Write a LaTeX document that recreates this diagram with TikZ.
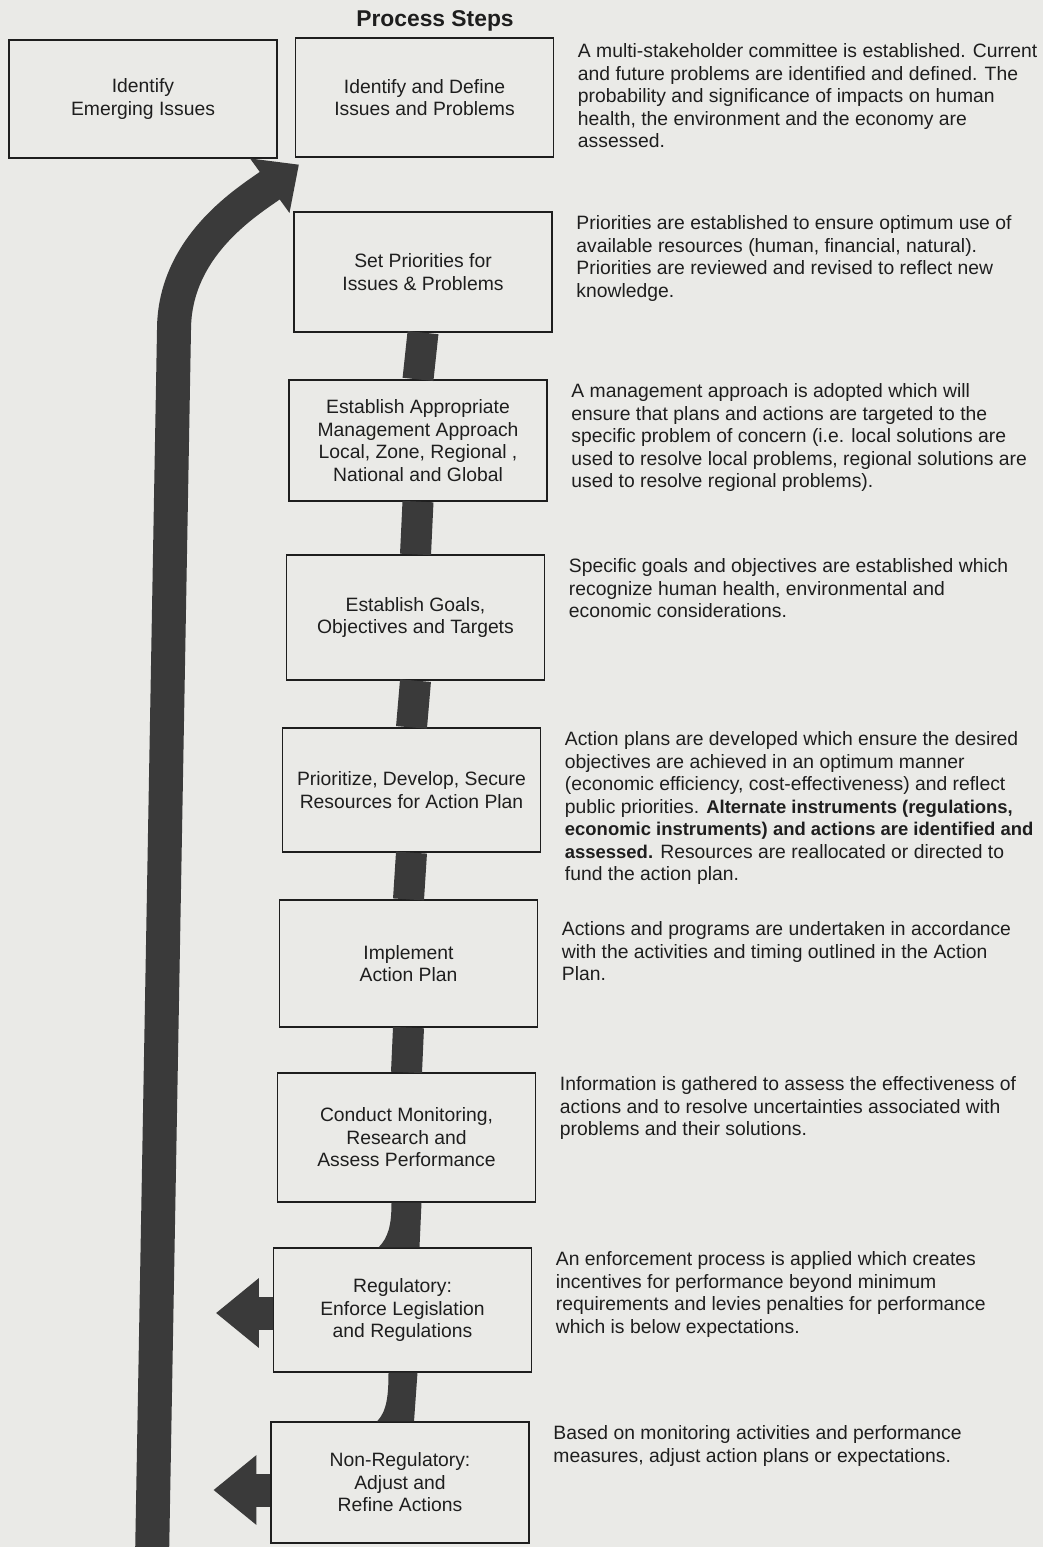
\documentclass[tikz,border=0pt]{standalone}
\usepackage{fontspec}
\setmainfont{Liberation Sans}
\usetikzlibrary{arrows.meta,calc}
\definecolor{paper}{RGB}{234,234,231}
\definecolor{ink}{RGB}{58,58,58}
\definecolor{printed}{RGB}{30,30,30}
\newcommand{\bodyfont}{\fontsize{11}{12.8}\selectfont}
\newcommand{\heavy}[1]{{\fontsize{10.5}{12.8}\selectfont\bfseries #1}}

\begin{document}
\begin{tikzpicture}[x=0.02cm,y=0.02cm,
  stepbox/.style={rectangle,draw=printed,line width=0.7pt,fill=paper,align=center,
    minimum width=5.16cm,minimum height=#1,inner sep=2pt,text=printed,font=\bodyfont},
  stepbox/.default=2.44cm,
  note/.style={anchor=north west,align=left,inner sep=0pt,xshift=0.47cm,yshift=-0.08cm,
    text=printed,font=\bodyfont,execute at begin node={\strut}},
  stepbar/.style={draw=ink,line width=0.62cm},
  feedback/.style={draw=ink,line width=0.68cm,-{Triangle[length=0.72cm,width=1.3cm]}},
  branch/.style={draw=ink,line width=0.66cm,-{Triangle[length=0.86cm,width=1.34cm]}}]
\fill[paper] (0,0) rectangle (1043,-1547);
\useasboundingbox (0,0) rectangle (1043,-1547);

\node[font=\bfseries\fontsize{13}{15}\selectfont,text=printed] (title) at (435,-21) {Process Steps};

% the steps
\node[stepbox=2.36cm,minimum width=5.36cm] (b1) at (143,-99) {Identify\\Emerging Issues};
\node[stepbox=2.38cm] (b2) at (424.5,-97.5) {Identify and Define\\Issues and Problems};
\node[stepbox=2.4cm] (b3) at (423,-272) {Set Priorities for\\Issues \& Problems};
\node[stepbox=2.42cm] (b4) at (418,-440.5) {Establish Appropriate\\Management Approach\\Local, Zone, Regional ,\\National and Global};
\node[stepbox=2.5cm] (b5) at (415.5,-617.5) {Establish Goals,\\Objectives and Targets};
\node[stepbox=2.48cm] (b6) at (411.5,-790) {Prioritize, Develop, Secure\\Resources for Action Plan};
\node[stepbox=2.54cm] (b7) at (408.5,-963.5) {Implement\\Action Plan};
\node[stepbox=2.58cm] (b8) at (406.5,-1137.5) {Conduct Monitoring,\\Research and\\Assess Performance};
\node[stepbox=2.48cm] (b9) at (402.5,-1310) {Regulatory:\\Enforce Legislation\\and Regulations};
\node[stepbox=2.42cm] (b10) at (400,-1482.5) {Non-Regulatory:\\Adjust and\\Refine Actions};

% what each step means
\node[note] (d2) at ([yshift=-0.04cm]b2.north east) {A multi-stakeholder committee is established. Current\\and future problems are identified and defined. The\\probability and significance of impacts on human\\health, the environment and the economy are\\assessed.};
\node[note] (d3) at (b3.north east) {Priorities are established to ensure optimum use of\\available resources (human, financial, natural).\\Priorities are reviewed and revised to reflect new\\knowledge.};
\node[note] (d4) at (b4.north east) {A management approach is adopted which will\\ensure that plans and actions are targeted to the\\specific problem of concern (i.e. local solutions are\\used to resolve local problems, regional solutions are\\used to resolve regional problems).};
\node[note] (d5) at (b5.north east) {Specific goals and objectives are established which\\recognize human health, environmental and\\economic considerations.};
\node[note] (d6) at (b6.north east) {Action plans are developed which ensure the desired\\objectives are achieved in an optimum manner\\(economic efficiency, cost-effectiveness) and reflect\\public priorities. \heavy{Alternate instruments (regulations,}\\\heavy{economic instruments) and actions are identified and}\\\heavy{assessed.} Resources are reallocated or directed to\\fund the action plan.};
\node[note] (d7) at ([yshift=-0.36cm]b7.north east) {Actions and programs are undertaken in accordance\\with the activities and timing outlined in the Action\\Plan.};
\node[note] (d8) at (b8.north east) {Information is gathered to assess the effectiveness of\\actions and to resolve uncertainties associated with\\problems and their solutions.};
\node[note] (d9) at (b9.north east) {An enforcement process is applied which creates\\incentives for performance beyond minimum\\requirements and levies penalties for performance\\which is below expectations.};
\node[note] (d10) at (b10.north east) {Based on monitoring activities and performance\\measures, adjust action plans or expectations.};

% bars between the steps
\foreach \a/\b in {b3/b4,b4/b5,b5/b6,b6/b7,b7/b8}
  \draw[stepbar] (\a.south) -- (\b.north);
\fill[ink] ($(b8.south)+(-15,0)$) -- ($(b8.south)+(15,0)$) -- ($(b9.north)+(17,0)$)
  -- ($(b9.north)+(-24,0)$) .. controls ($(b9.north)+(-14,10)$) and ($(b8.south)+(-15,-22)$) .. ($(b8.south)+(-15,0)$) -- cycle;
\fill[ink] ($(b9.south)+(-14,0)$) -- ($(b9.south)+(15,0)$) -- ($(b10.north)+(14,0)$)
  -- ($(b10.north)+(-23,0)$) .. controls ($(b10.north)+(-13,10)$) and ($(b9.south)+(-14,-22)$) .. ($(b9.south)+(-14,0)$) -- cycle;

% way out to the left
\draw[branch] ([yshift=-0.06cm]b9.west) -- ++(-57,0);
\draw[branch] ([yshift=-0.15cm]b10.west) -- ++(-57,0);

% back to the top
\coordinate (loopfoot) at (152,-1560);
\coordinate (loopbend) at (174,-330);
\draw[feedback] (loopfoot) -- (loopbend) .. controls (174,-245) and (250,-200) .. ([shift={(4,-7)}]b2.south west);
\end{tikzpicture}
\end{document}
